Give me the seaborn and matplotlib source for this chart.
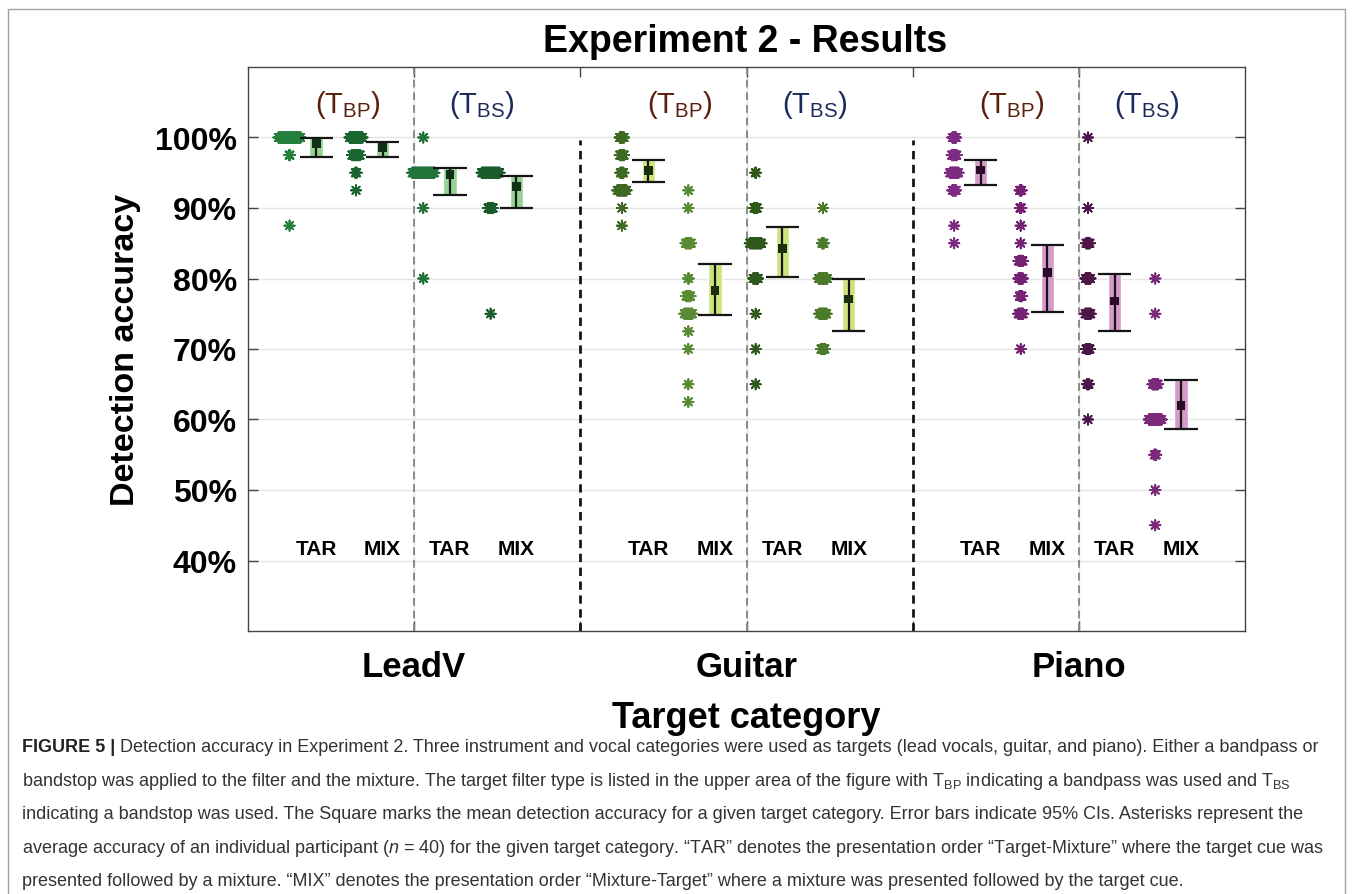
import matplotlib
matplotlib.use('Agg')
import matplotlib.pyplot as plt
import seaborn as sns
import pandas as pd
import numpy as np
from matplotlib import font_manager
from matplotlib.patches import Rectangle


# Data
# per-participant accuracies (%) : value levels and number of participants at each level
leadv_bp_tar_vals = [100, 97.5, 87.5]
leadv_bp_tar_counts = [37, 2, 1]
leadv_bp_mix_vals = [100, 97.5, 95, 92.5]
leadv_bp_mix_counts = [22, 14, 3, 1]
leadv_bs_tar_vals = [100, 95, 90, 80]
leadv_bs_tar_counts = [1, 37, 1, 1]
leadv_bs_mix_vals = [95, 90, 75]
leadv_bs_mix_counts = [30, 9, 1]

guitar_bp_tar_vals = [100, 97.5, 95, 92.5, 90, 87.5]
guitar_bp_tar_counts = [8, 8, 6, 16, 1, 1]
guitar_bp_mix_vals = [92.5, 90, 85, 80, 77.5, 75, 72.5, 70, 65, 62.5]
guitar_bp_mix_counts = [1, 1, 10, 2, 8, 14, 1, 1, 1, 1]
guitar_bs_tar_vals = [95, 90, 85, 80, 75, 70, 65]
guitar_bs_tar_counts = [2, 6, 20, 9, 1, 1, 1]
guitar_bs_mix_vals = [90, 85, 80, 75, 70]
guitar_bs_mix_counts = [1, 4, 15, 13, 7]

piano_bp_tar_vals = [100, 97.5, 95, 92.5, 87.5, 85]
piano_bp_tar_counts = [7, 9, 15, 7, 1, 1]
piano_bp_mix_vals = [92.5, 90, 87.5, 85, 82.5, 80, 77.5, 75, 70]
piano_bp_mix_counts = [4, 3, 1, 1, 8, 8, 5, 9, 1]
piano_bs_tar_vals = [100, 90, 85, 80, 75, 70, 65, 60]
piano_bs_tar_counts = [1, 1, 7, 9, 10, 7, 4, 1]
piano_bs_mix_vals = [80, 75, 65, 60, 55, 50, 45]
piano_bs_mix_counts = [1, 1, 10, 22, 4, 1, 1]

# group order: LeadV BP TAR, BP MIX, BS TAR, BS MIX, Guitar ..., Piano ...
means = [99.1, 98.6, 94.7, 93.0, 95.3, 78.3, 84.2, 77.1, 95.4, 80.9, 76.8, 62.0]
ci_low = [97.2, 97.3, 91.9, 90.0, 93.7, 74.8, 80.2, 72.5, 93.2, 75.3, 72.5, 58.6]
ci_high = [99.9, 99.3, 95.7, 94.5, 96.8, 82.1, 87.3, 79.9, 96.8, 84.7, 80.7, 65.6]

categories = ['LeadV', 'Guitar', 'Piano']
filter_labels = [r'$(\mathrm{T}_{\mathrm{BP}})$', r'$(\mathrm{T}_{\mathrm{BS}})$']
order_labels = ['TAR', 'MIX']
yticks = [40, 50, 60, 70, 80, 90, 100]

point_sets = [
    (leadv_bp_tar_vals, leadv_bp_tar_counts), (leadv_bp_mix_vals, leadv_bp_mix_counts),
    (leadv_bs_tar_vals, leadv_bs_tar_counts), (leadv_bs_mix_vals, leadv_bs_mix_counts),
    (guitar_bp_tar_vals, guitar_bp_tar_counts), (guitar_bp_mix_vals, guitar_bp_mix_counts),
    (guitar_bs_tar_vals, guitar_bs_tar_counts), (guitar_bs_mix_vals, guitar_bs_mix_counts),
    (piano_bp_tar_vals, piano_bp_tar_counts), (piano_bp_mix_vals, piano_bp_mix_counts),
    (piano_bs_tar_vals, piano_bs_tar_counts), (piano_bs_mix_vals, piano_bs_mix_counts),
]

# colours
point_colors = ['#25803c', '#1b6530', '#22743a', '#1b5c2c',
                '#3f6a24', '#5b8a34', '#2f581d', '#4a7a2a',
                '#7d2a82', '#762272', '#4c1648', '#7a2a78']
bar_colors = ['#93d393'] * 4 + ['#cbe47c'] * 4 + ['#d699c9'] * 4
mean_colors = ['#123018'] * 4 + ['#1c2e12'] * 4 + ['#2a0c28'] * 4
filter_colors = ['#5a1f0c', '#1c2a5c']

# offsets inside one filter block (points, ci) for TAR / MIX
pt_off = {0: [0.25, 0.65], 1: [0.055, 0.46]}
ci_off = {0: [0.41, 0.81], 1: [0.215, 0.615]}


sns.set_theme(style='white')
plt.rcParams['font.family'] = ['Liberation Sans', 'DejaVu Sans']
plt.rcParams['mathtext.fontset'] = 'custom'
plt.rcParams['mathtext.rm'] = 'Liberation Sans'
plt.rcParams['mathtext.it'] = 'Liberation Sans:italic'
plt.rcParams['mathtext.bf'] = 'Liberation Sans:bold'
plt.rcParams['text.color'] = '#000000'
plt.rcParams['axes.labelcolor'] = '#000000'
plt.rcParams['xtick.labelcolor'] = '#000000'
plt.rcParams['ytick.labelcolor'] = '#000000'

names = {f.name for f in font_manager.fontManager.ttflist}
cap_font = 'Liberation Sans Narrow' if 'Liberation Sans Narrow' in names else 'Liberation Sans'
cap_size = 15.6 if cap_font == 'Liberation Sans Narrow' else 13.0

fig = plt.figure(figsize=(13.54, 8.95), dpi=100)
ax = fig.add_axes([248 / 1354, 1 - 632 / 895, 997 / 1354, 564 / 895])

# build the participant points table
rows = []
for g, (vals, counts) in enumerate(point_sets):
    block = g // 2
    filt = block % 2
    order = g % 2
    xc = block + pt_off[filt][order]
    for v, c in zip(vals, counts):
        spread = (np.arange(c) - (c - 1) / 2) * 0.0037
        for dx in spread:
            rows.append({'x': xc + dx, 'acc': v, 'group': g})
df = pd.DataFrame(rows)

sns.scatterplot(data=df, x='x', y='acc', hue='group',
                palette={g: point_colors[g] for g in range(12)},
                marker=(8, 2, 0), s=55, linewidth=1.3, legend=False, ax=ax, zorder=3)

# confidence intervals and means
ci_x = []
for g in range(12):
    block = g // 2
    filt = block % 2
    order = g % 2
    ci_x.append(block + ci_off[filt][order])
ci_x = np.array(ci_x)
lo = np.array(ci_low)
hi = np.array(ci_high)

ax.bar(ci_x, hi - lo, bottom=lo, width=0.08, color=bar_colors, zorder=2)
ax.vlines(ci_x, lo, hi, color='#151515', lw=1.6, zorder=4)
ax.hlines(lo, ci_x - 0.1, ci_x + 0.1, color='#151515', lw=1.6, zorder=4)
ax.hlines(hi, ci_x - 0.1, ci_x + 0.1, color='#151515', lw=1.6, zorder=4)
mean_df = pd.DataFrame({'x': ci_x, 'acc': means, 'group': range(12)})
sns.scatterplot(data=mean_df, x='x', y='acc', hue='group',
                palette={g: mean_colors[g] for g in range(12)},
                marker='s', s=40, linewidth=0, legend=False, ax=ax, zorder=5)

# separators
for b in [1, 3, 5]:
    ax.axvline(b, color='#8a8a8a', lw=1.4, ls=(0, (4, 2.5)), zorder=1)
for b in [2, 4]:
    ax.vlines(b, 30, 99.6, color='#151515', lw=2, linestyles=(0, (3, 2)), zorder=1)

# filter and order labels
for block in range(6):
    filt = block % 2
    lx = block + (0.6 if filt == 0 else 0.41)
    ax.text(lx, 104.8, filter_labels[filt], color=filter_colors[filt],
            fontsize=21, ha='center', va='center')
    for order in range(2):
        ax.text(block + ci_off[filt][order], 41.7, order_labels[order],
                fontsize=15, fontweight='bold', ha='center', va='center', color='#000000')

ax.set_xlim(0, 6)
ax.set_ylim(30, 110)
ax.set_yticks(yticks)
ax.set_yticklabels([f'{t}%' for t in yticks], fontsize=23, fontweight='bold')
ax.set_xticks([1, 3, 5])
ax.set_xticklabels(categories, fontsize=25, fontweight='bold')
ax.set_xticks([2, 4], minor=True)
ax.tick_params(axis='both', which='both', direction='in', length=7, width=1,
               color='#444444', top=True, right=True, bottom=True, left=True)
ax.tick_params(axis='x', pad=14)
ax.tick_params(axis='y', pad=8)
ax.grid(True, axis='both', which='major', color='#e4e4e4', lw=1)
ax.set_axisbelow(True)
for sp in ax.spines.values():
    sp.set_color('#444444')
    sp.set_linewidth(1)
ax.set_xlabel('Target category', fontsize=26, fontweight='bold', labelpad=12)
ax.set_ylabel('Detection accuracy', fontsize=24.5, fontweight='bold', labelpad=10)

fig.text(745 / 1354, 1 - 42 / 895, 'Experiment 2 - Results', fontsize=27,
         fontweight='bold', ha='center', va='center')

# frame around figure + caption
fig.add_artist(Rectangle((8 / 1354, -0.01), 1337 / 1354, 1 - 10 / 895 + 0.01,
                         transform=fig.transFigure, fill=False, ec='#a0a0a0', lw=1))

cap_lines = [
    'Detection accuracy in Experiment 2. Three instrument and vocal categories were used as targets (lead vocals, guitar, and piano). Either a bandpass or',
    r'bandstop was applied to the filter and the mixture. The target filter type is listed in the upper area of the figure with $\mathregular{T_{BP}}$ indicating a bandpass was used and $\mathregular{T_{BS}}$',
    'indicating a bandstop was used. The Square marks the mean detection accuracy for a given target category. Error bars indicate 95% CIs. Asterisks represent the',
    'average accuracy of an individual participant ($n$ = 40) for the given target category. \u201cTAR\u201d denotes the presentation order \u201cTarget-Mixture\u201d where the target cue was',
    'presented followed by a mixture. \u201cMIX\u201d denotes the presentation order \u201cMixture-Target\u201d where a mixture was presented followed by the target cue.',
]

x0 = 22 / 1354
y_first = 748
line_step = 33.5
head = fig.text(x0, 1 - y_first / 895, 'FIGURE 5 | ', fontsize=cap_size, fontweight='bold',
                family=[cap_font, 'DejaVu Sans'], va='center', color='#222222')
fig.canvas.draw()
head_w = head.get_window_extent().width / 1354
for i, line in enumerate(cap_lines):
    xx = x0 + head_w if i == 0 else x0
    fig.text(xx, 1 - (y_first + i * line_step) / 895, line, fontsize=cap_size,
             family=[cap_font, 'DejaVu Sans'], va='center', color='#333333')

fig.savefig('out.png', dpi=100)
